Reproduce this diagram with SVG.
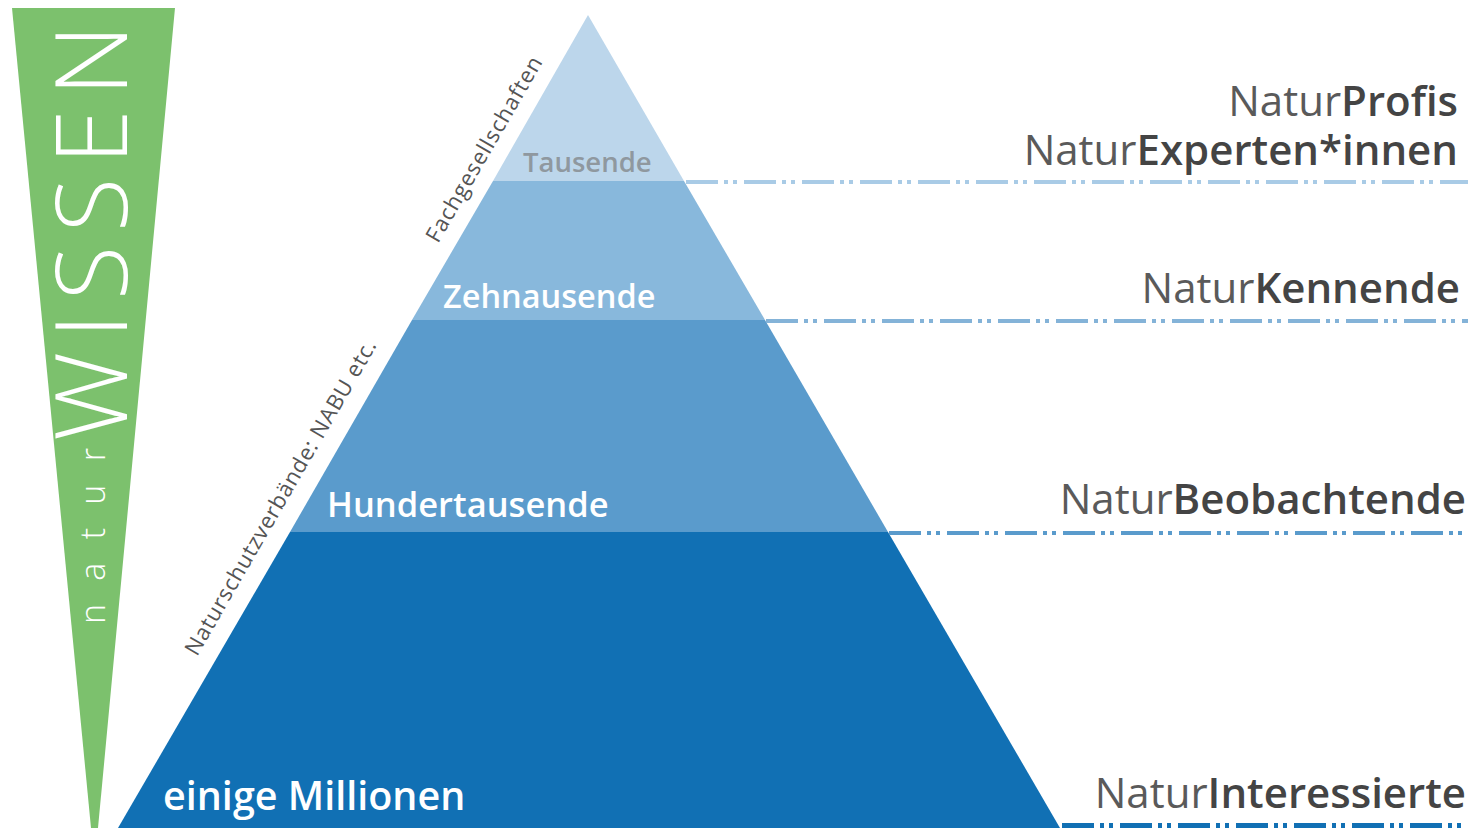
<svg xmlns="http://www.w3.org/2000/svg" width="1484" height="828" viewBox="0 0 1484 828">
<style>
.lbl{font-family:"Open Sans","Liberation Sans",sans-serif;font-weight:600;fill:#ffffff}
.rl{font-family:"Open Sans","Liberation Sans",sans-serif;font-size:42px;fill:#4a4a4a;text-anchor:end}
.lt{font-weight:400;fill:#5a5a5a}
.bd{font-weight:600;fill:#444}
.side{font-family:"Open Sans","Liberation Sans",sans-serif;font-size:22px;fill:#555}
.dash{fill:none;stroke-dasharray:32 6 4 5 4 7}
</style>
<rect width="1484" height="828" fill="#ffffff"/>
<g id="wissen">
<polygon points="12,8 175,8 98,828 91,828" fill="#7cc16d"/>
<text transform="translate(105,624) rotate(-90)" font-family="Open Sans, Liberation Sans, sans-serif" font-size="34" font-weight="300" fill="#ffffff" textLength="176" lengthAdjust="spacing">natur</text>
<text transform="translate(127,441) rotate(-90)" font-family="Open Sans, Liberation Sans, sans-serif" font-size="100" font-weight="300" fill="#ffffff" textLength="417" lengthAdjust="spacing">WISSEN</text>
</g>
<g id="pyramid">
<polygon id="tier4" points="588,15 684,181 493,181" fill="#bcd6eb"/>
<polygon id="tier3" points="493,181 684,181 765,320 412,320" fill="#88b8dc"/>
<polygon id="tier2" points="412,320 765,320 888,532 290,532" fill="#5a9bcc"/>
<polygon id="tier1" points="290,532 888,532 1060,828 118,828" fill="#1170b4"/>
<text class="lbl" x="523" y="172" font-size="27.5" style="fill:#8f989f">Tausende</text>
<text class="lbl" x="443" y="308" font-size="32.5">Zehnausende</text>
<text class="lbl" x="327" y="517" font-size="34.5">Hundertausende</text>
<text class="lbl" x="163" y="810" font-size="39.5">einige Millionen</text>
</g>
<g id="sidelabels">
<text class="side" transform="translate(438,244) rotate(-60)" textLength="210" lengthAdjust="spacing">Fachgesellschaften</text>
<text class="side" transform="translate(197,657) rotate(-60)" textLength="360" lengthAdjust="spacing">Naturschutzverbände: NABU etc.</text>
</g>
<g id="connectors">
<line class="dash" x1="686" y1="182" x2="1468" y2="182" stroke="#a9cbe6" stroke-width="4"/>
<line class="dash" x1="766" y1="321" x2="1468" y2="321" stroke="#84b3d8" stroke-width="4"/>
<line class="dash" x1="889" y1="533" x2="1468" y2="533" stroke="#5a9bcc" stroke-width="4"/>
<line class="dash" x1="1062" y1="826" x2="1468" y2="826" stroke="#1170b4" stroke-width="6"/>
</g>
<g id="labels">
<text class="rl"><tspan class="lt" x="1458" y="116">Natur</tspan><tspan class="bd">Profis</tspan><tspan class="lt" x="1458" y="165">Natur</tspan><tspan class="bd">Experten*innen</tspan></text>
<text class="rl" x="1460" y="303"><tspan class="lt">Natur</tspan><tspan class="bd">Kennende</tspan></text>
<text class="rl" x="1466" y="514"><tspan class="lt">Natur</tspan><tspan class="bd">Beobachtende</tspan></text>
<text class="rl" x="1466" y="808"><tspan class="lt">Natur</tspan><tspan class="bd">Interessierte</tspan></text>
</g>
</svg>
